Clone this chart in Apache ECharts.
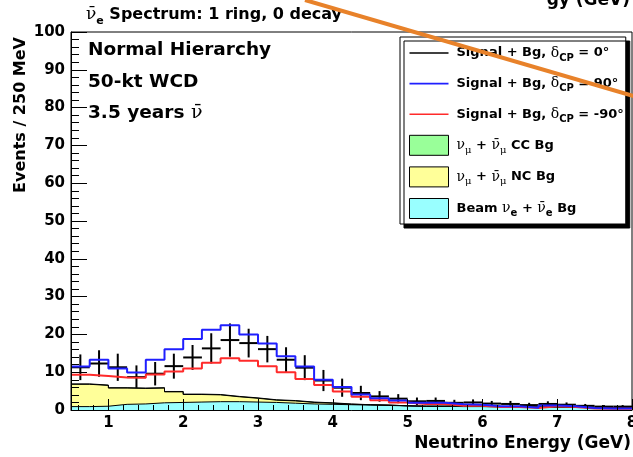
<!DOCTYPE html>
<html>
<head>
<meta charset="utf-8">
<script src="https://cdn.jsdelivr.net/npm/echarts@6/dist/echarts.min.js"></script>
<style>
    html, body { margin: 0; padding: 0; background: #fff; }
    #chart { width: 633px; height: 457px; }
</style>
</head>
<body>
<div id="chart"></div>
<script>
    // bin edges, 250 MeV bins
    var binEdges = [0.5, 0.75, 1.0, 1.25, 1.5, 1.75, 2.0, 2.25, 2.5, 2.75, 3.0, 3.25, 3.5, 3.75, 4.0, 4.25,
        4.5, 4.75, 5.0, 5.25, 5.5, 5.75, 6.0, 6.25, 6.5, 6.75, 7.0, 7.25, 7.5, 7.75, 8.0];

    // signal + bg, dCP = 0 (points with error bars)
    var sigCP0 = [11.3, 12.3, 11.3, 8.7, 9.6, 11.6, 13.9, 16.3, 18.5, 17.7, 16.1, 13.3, 11.2, 7.8, 5.9,
        4.5, 3.6, 3.0, 2.3, 2.4, 1.9, 2.0, 1.7, 1.6, 1.3, 1.6, 1.4, 1.1, 0.9, 0.9];
    var errCP0 = [3.4, 3.5, 3.6, 3.1, 3.1, 3.3, 3.3, 4.0, 4.4, 3.8, 3.5, 3.3, 3.3, 2.8, 2.4,
        1.9, 1.4, 1.2, 1.0, 0.9, 0.8, 0.8, 0.7, 0.8, 0.6, 0.7, 0.6, 0.5, 0.4, 0.4];
    // signal + bg, dCP = 90
    var sigCP90 = [11.5, 13.3, 11.0, 9.9, 13.3, 16.1, 18.8, 21.2, 22.4, 20.0, 17.6, 14.2, 11.5, 8.0, 6.1,
        4.1, 3.1, 2.5, 1.9, 1.9, 1.5, 1.4, 1.0, 1.0, 0.6, 1.2, 1.0, 0.5, 0.4, 0.4];
    // signal + bg, dCP = -90
    var sigCPm90 = [9.3, 9.0, 8.6, 8.5, 9.4, 10.2, 11.0, 12.5, 13.7, 13.0, 11.6, 10.0, 8.2, 6.6, 4.9,
        3.5, 2.6, 2.0, 1.6, 1.6, 1.1, 1.1, 0.8, 0.8, 0.5, 1.0, 0.8, 0.4, 0.3, 0.3];
    // backgrounds (stacked: beam at the bottom, then NC, then CC)
    var bgBeam = [0.9, 1.0, 1.5, 1.6, 1.9, 2.0, 2.1, 2.2, 2.2, 2.1, 2.0, 1.8, 1.6, 1.5, 1.4,
        1.3, 1.2, 1.1, 1.0, 1.0, 0.9, 0.9, 0.8, 0.8, 0.8, 0.7, 0.7, 0.6, 0.6, 0.5];
    var bgNC = [5.9, 5.5, 4.3, 4.1, 3.9, 2.8, 2.0, 1.8, 1.3, 1.0, 0.6, 0.6, 0.4, 0.3, 0.1,
        0.1, 0.1, 0.0, 0.0, 0.0, 0.3, 0.3, 0.1, 0.0, 0.3, 0.4, 0.0, 0.1, 0.0, 0.1];
    var bgCC = [0.1, 0.1, 0.1, 0.1, 0.1, 0.1, 0.1, 0.1, 0.1, 0.1, 0.1, 0.1, 0.1, 0.1, 0.1,
        0.0, 0.0, 0.0, 0.0, 0.0, 0.0, 0.0, 0.0, 0.0, 0.0, 0.0, 0.0, 0.0, 0.0, 0.0];

    var nameCP0 = 'Signal + Bg, δCP = 0°';
    var nameCP90 = 'Signal + Bg, δCP = 90°';
    var nameCPm90 = 'Signal + Bg, δCP = -90°';
    var nameCC = 'νμ + anti-νμ CC Bg';
    var nameNC = 'νμ + anti-νμ NC Bg';
    var nameBeam = 'Beam νe + anti-νe Bg';

    var NUBAR = 'ν\u0304';
    var legendText = {};
    legendText[nameCP0] = 'Signal + Bg, {g|δ}{s|CP} = 0°';
    legendText[nameCP90] = 'Signal + Bg, {g|δ}{s|CP} = 90°';
    legendText[nameCPm90] = 'Signal + Bg, {g|δ}{s|CP} = -90°';
    legendText[nameCC] = '{g|ν}{gs|μ} + {g|' + NUBAR + '}{gs|μ} CC Bg';
    legendText[nameNC] = '{g|ν}{gs|μ} + {g|' + NUBAR + '}{gs|μ} NC Bg';
    legendText[nameBeam] = 'Beam {g|ν}{s|e} + {g|' + NUBAR + '}{s|e} Bg';

    // histogram as step line: one point per left bin edge, last value repeated at the right edge
    function stepData(values) {
        var out = [];
        for (var i = 0; i < binEdges.length; i++) {
            out.push([binEdges[i], values[Math.min(i, values.length - 1)]]);
        }
        return out;
    }
    function addArrays() {
        var args = arguments;
        return args[0].map(function (v, i) {
            var s = 0;
            for (var k = 0; k < args.length; k++) s += args[k][i];
            return Math.round(s * 100) / 100;
        });
    }
    var stackBeam = bgBeam;
    var stackNC = addArrays(bgBeam, bgNC);
    var stackCC = addArrays(bgBeam, bgNC, bgCC);

    var FONT = 'DejaVu Sans';
    var lineIcon = 'path://M0,0L40,0L40,1.6L0,1.6Z';

    function bgSeries(name, color, values) {
        return {
            name: name,
            type: 'line',
            step: 'end',
            symbol: 'none',
            color: color,
            lineStyle: { color: '#000', width: 1 },
            areaStyle: { color: color, opacity: 1 },
            data: stepData(values)
        };
    }

    var myChart = echarts.init(document.getElementById('chart'));
    var option = {
        animation: false,
        backgroundColor: '#fff',
        title: {
            text: '{g|' + NUBAR + '}{s|e} Spectrum: 1 ring, 0 decay',
            left: 86,
            top: 3,
            padding: 0,
            textStyle: {
                fontFamily: FONT, fontWeight: 'bold', fontSize: 16, color: '#000', lineHeight: 24,
                rich: {
                    g: { fontFamily: 'DejaVu Serif', fontWeight: 'normal', fontSize: 17, color: '#000', lineHeight: 24 },
                    s: { fontFamily: FONT, fontWeight: 'bold', fontSize: 11, color: '#000', lineHeight: 11, verticalAlign: 'bottom' }
                }
            }
        },
        legend: {
            orient: 'vertical',
            left: 400,
            top: 37,
            padding: [6, 2, 5, 9],
            itemGap: 10.6,
            itemWidth: 39,
            itemHeight: 20,
            backgroundColor: '#fff',
            borderColor: '#000',
            borderWidth: 1,
            shadowColor: '#000',
            shadowBlur: 0,
            shadowOffsetX: 4,
            shadowOffsetY: 4,
            selectedMode: false,
            data: [
                { name: nameCP0, icon: lineIcon, itemStyle: { color: '#000', borderWidth: 0 } },
                { name: nameCP90, icon: lineIcon, itemStyle: { color: '#1f1fff', borderWidth: 0 } },
                { name: nameCPm90, icon: lineIcon, itemStyle: { color: '#ff2a2a', borderWidth: 0 } },
                { name: nameCC, icon: 'rect', itemStyle: { color: '#99ff99', borderColor: '#000', borderWidth: 1 } },
                { name: nameNC, icon: 'rect', itemStyle: { color: '#ffff99', borderColor: '#000', borderWidth: 1 } },
                { name: nameBeam, icon: 'rect', itemStyle: { color: '#99ffff', borderColor: '#000', borderWidth: 1 } }
            ],
            formatter: function (name) {
                return legendText[name];
            },
            textStyle: {
                fontFamily: FONT, fontWeight: 'bold', fontSize: 13, color: '#000', lineHeight: 20, padding: [0, 0, 0, 3],
                rich: {
                    g: { fontFamily: 'DejaVu Serif', fontWeight: 'normal', fontSize: 14, color: '#000', lineHeight: 20 },
                    s: { fontFamily: FONT, fontWeight: 'bold', fontSize: 10, color: '#000', lineHeight: 10, verticalAlign: 'bottom' },
                    gs: { fontFamily: 'DejaVu Serif', fontWeight: 'normal', fontSize: 10, color: '#000', lineHeight: 10, verticalAlign: 'bottom' }
                }
            }
        },
        grid: {
            left: 71,
            right: 1,
            top: 32,
            bottom: 47,
            outerBoundsMode: 'none',
            show: true,
            borderColor: '#000',
            borderWidth: 1,
            backgroundColor: 'transparent'
        },
        xAxis: {
            type: 'value',
            min: 0.5,
            max: 8,
            splitNumber: 8,
            z: 10,
            axisLine: { lineStyle: { color: '#000', width: 1 } },
            axisTick: { inside: true, length: 11, lineStyle: { color: '#000', width: 1 } },
            minorTick: { show: true, splitNumber: 5, length: 5, lineStyle: { color: '#000', width: 1 } },
            splitLine: { show: false },
            axisLabel: {
                showMinLabel: false,
                margin: 6,
                fontFamily: FONT, fontWeight: 'bold', fontSize: 15, color: '#000'
            },
            name: 'Neutrino Energy (GeV)',
            nameLocation: 'end',
            nameGap: -1,
            nameTextStyle: {
                align: 'right', verticalAlign: 'top', padding: [25, 0, 0, 0],
                fontFamily: FONT, fontWeight: 'bold', fontSize: 17, color: '#000'
            }
        },
        yAxis: {
            type: 'value',
            min: 0,
            max: 100,
            interval: 10,
            z: 10,
            axisLine: { show: true, lineStyle: { color: '#000', width: 1 } },
            axisTick: { show: true, inside: true, length: 16, lineStyle: { color: '#000', width: 1 } },
            minorTick: { show: true, splitNumber: 5, length: 8, lineStyle: { color: '#000', width: 1 } },
            splitLine: { show: false },
            axisLabel: {
                margin: 6,
                fontFamily: FONT, fontWeight: 'bold', fontSize: 15, color: '#000'
            }
        },
        graphic: [
            {
                type: 'text', x: 21, y: 37, rotation: Math.PI / 2, z: 50,
                style: {
                    text: 'Events / 250 MeV', textAlign: 'right', verticalAlign: 'middle',
                    font: 'bold 16px "DejaVu Sans"', fill: '#000'
                }
            },
            {
                type: 'text', x: 88, y: 50, z: 50,
                style: { text: 'Normal Hierarchy', verticalAlign: 'middle', font: 'bold 18.5px "DejaVu Sans"', fill: '#000' }
            },
            {
                type: 'text', x: 88, y: 82, z: 50,
                style: { text: '50-kt WCD', verticalAlign: 'middle', font: 'bold 18.5px "DejaVu Sans"', fill: '#000' }
            },
            {
                type: 'text', x: 88, y: 113, z: 50,
                style: {
                    text: '3.5 years {g|' + NUBAR + '}', verticalAlign: 'middle', font: 'bold 18.5px "DejaVu Sans"', fill: '#000',
                    rich: { g: { fontFamily: 'DejaVu Serif', fontWeight: 'normal', fontSize: 19, fill: '#000' } }
                }
            },
            {
                // clipped axis title of the panel above
                type: 'text', x: 630, y: 9, z: 50,
                style: { text: 'gy (GeV)', textAlign: 'right', verticalAlign: 'bottom', font: 'bold 17px "DejaVu Sans"', fill: '#000' }
            },
            {
                type: 'line', z: 100,
                shape: { x1: 305, y1: 0, x2: 640, y2: 98 },
                style: { stroke: '#e8822a', lineWidth: 4 }
            }
        ],
        series: [
            bgSeries(nameCC, '#99ff99', stackCC),
            bgSeries(nameNC, '#ffff99', stackNC),
            bgSeries(nameBeam, '#99ffff', stackBeam),
            {
                name: nameCPm90,
                type: 'line',
                step: 'end',
                symbol: 'none',
                color: '#ff2a2a',
                lineStyle: { color: '#ff2a2a', width: 2 },
                data: stepData(sigCPm90)
            },
            {
                name: nameCP90,
                type: 'line',
                step: 'end',
                symbol: 'none',
                color: '#1f1fff',
                lineStyle: { color: '#1f1fff', width: 2 },
                data: stepData(sigCP90)
            },
            {
                name: nameCP0,
                type: 'custom',
                color: '#000',
                encode: { x: [0, 1], y: [2] },
                data: sigCP0.map(function (v, i) {
                    return [binEdges[i], binEdges[i + 1], v, errCP0[i]];
                }),
                renderItem: function (params, api) {
                    var lo = api.value(0), hi = api.value(1), v = api.value(2), e = api.value(3);
                    var mid = (lo + hi) / 2;
                    var pL = api.coord([lo, v]);
                    var pR = api.coord([hi, v]);
                    var pT = api.coord([mid, v + e]);
                    var pB = api.coord([mid, Math.max(v - e, 0)]);
                    var st = { stroke: '#000', lineWidth: 2 };
                    return {
                        type: 'group',
                        children: [
                            { type: 'line', shape: { x1: pL[0], y1: pL[1], x2: pR[0], y2: pR[1] }, style: st },
                            { type: 'line', shape: { x1: pT[0], y1: pT[1], x2: pB[0], y2: pB[1] }, style: st }
                        ]
                    };
                }
            }
        ]
    };
    myChart.setOption(option);
</script>
</body>
</html>
